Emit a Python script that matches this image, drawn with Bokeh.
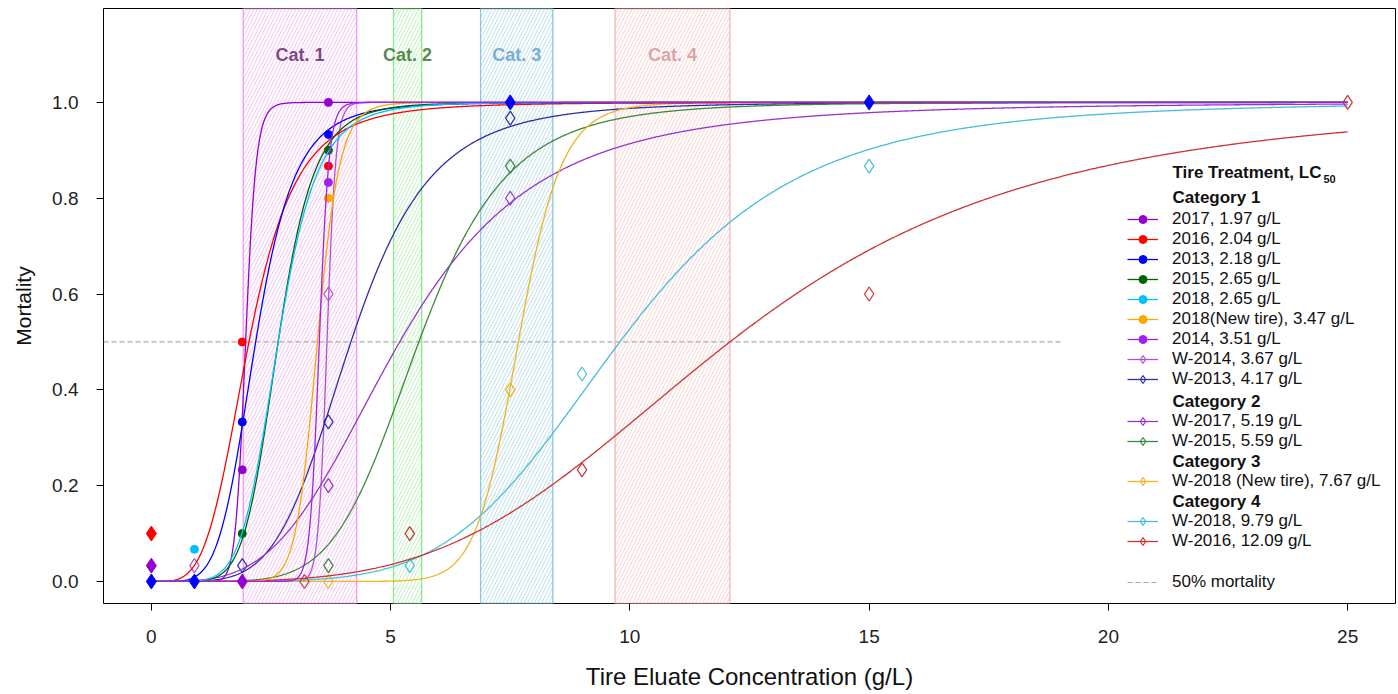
import numpy as np
from bokeh.plotting import figure
from bokeh.models import Range1d, FixedTicker, NumeralTickFormatter, Legend, LegendItem, Label
from bokeh.embed import file_html
from bokeh.resources import INLINE

# ---------------- data ----------------
# filled-marker treatments (Category 1)
f_labels = ["2017, 1.97 g/L", "2016, 2.04 g/L", "2013, 2.18 g/L", "2015, 2.65 g/L",
            "2018, 2.65 g/L", "2018(New tire), 3.47 g/L", "2014, 3.51 g/L"]
f_colors = ["#9400D3", "#FF0000", "#0000FF", "#006400", "#00BFFF", "#FFA500", "#A020F0"]
f_lc50 = [1.97, 2.04, 2.18, 2.65, 2.65, 3.47, 3.51]
f_slope = [18, 4.1, 5.3, 7.0, 6.5, 15, 35]
f_x = [[1.9, 3.7], [1.9, 3.7], [1.9, 3.7], [1.9, 3.7], [0.9], [3.7], [3.7]]
f_y = [[0.233, 1.0], [0.5, 0.867], [0.333, 0.933], [0.1, 0.9], [0.067], [0.8], [0.833]]
# overplotted control / plateau points (drawn as large filled diamonds)
d_series = [0, 0, 1, 2, 2, 2, 2]
d_x = [0, 1.9, 0, 0, 0.9, 7.5, 15]
d_y = [0.033, 0.0, 0.1, 0.0, 0.0, 1.0, 1.0]

# open-marker (W-) treatments
w_labels = ["W-2014, 3.67 g/L", "W-2013, 4.17 g/L", "W-2017, 5.19 g/L", "W-2015, 5.59 g/L",
            "W-2018 (New tire), 7.67 g/L", "W-2018, 9.79 g/L", "W-2016, 12.09 g/L"]
w_colors = ["#B452CD", "#2E2EA8", "#9A32CD", "#3A8A3A", "#EEB422", "#45BED6", "#CD3333"]
w_lc50 = [3.67, 4.17, 5.19, 5.59, 7.67, 9.79, 12.09]
w_slope = [40, 5.0, 3.6, 6.0, 17, 5.2, 3.75]
w_x = [[0.9, 3.7], [1.9, 3.7, 7.5], [3.7, 7.5], [3.7, 7.5], [3.7, 7.5], [5.4, 9.0, 15], [3.2, 5.4, 9.0, 15, 25]]
w_y = [[0.033, 0.6], [0.033, 0.333, 0.967], [0.2, 0.8], [0.033, 0.867], [0.0, 0.4],
       [0.033, 0.433, 0.867], [0.0, 0.1, 0.233, 0.6, 1.0]]

# category bands (LC50 ranges)
cat_names = ["Cat. 1", "Cat. 2", "Cat. 3", "Cat. 4"]
cat_left = [1.92, 5.06, 6.88, 9.69]
cat_right = [4.29, 5.65, 8.39, 12.09]
cat_band_colors = ["#EE9AEE", "#8EE88E", "#8CC6DA", "#F4B4B4"]
cat_text_colors = ["#7E4A86", "#5A8A50", "#78AED2", "#D8A6A6"]

ref_mortality = 0.5
ref_x_end = 19.0
x_max_conc = 25.0

# ---------------- figure ----------------
FONT = "Liberation Sans"
W, H = 1398, 694
LEFT, RIGHT, TOP, BOTTOM = 103, 3, 8, 91

p = figure(width=W, height=H, x_range=Range1d(-1, 26), y_range=Range1d(-0.046, 1.196),
           output_backend="svg", toolbar_location=None,
           min_border_left=LEFT, min_border_right=RIGHT, min_border_top=TOP, min_border_bottom=BOTTOM)
p.xgrid.visible = False
p.ygrid.visible = False
p.outline_line_color = "black"
p.outline_line_width = 1
p.background_fill_color = "white"

for ax in (p.xaxis[0], p.yaxis[0]):
    ax.axis_line_color = None
    ax.major_tick_out = 7
    ax.major_tick_in = 0
    ax.minor_tick_out = 0
    ax.minor_tick_in = 0
    ax.major_tick_line_color = "black"
    ax.major_label_text_font = FONT
    ax.major_label_text_font_size = "19px"
    ax.major_label_text_color = "#222222"
    ax.axis_label_text_font = FONT
    ax.axis_label_text_font_style = "normal"
    ax.axis_label_text_color = "#111111"

p.xaxis.ticker = FixedTicker(ticks=[0, 5, 10, 15, 20, 25])
p.yaxis.ticker = FixedTicker(ticks=[0, 0.2, 0.4, 0.6, 0.8, 1.0])
p.yaxis.formatter = NumeralTickFormatter(format="0.0")
p.yaxis.major_label_orientation = "horizontal"
p.xaxis.axis_label = "Tire Eluate Concentration (g/L)"
p.yaxis.axis_label = "Mortality"
p.xaxis.axis_label_text_font_size = "24px"
p.yaxis.axis_label_text_font_size = "21px"
p.xaxis.major_label_standoff = 19
p.yaxis.major_label_standoff = 18
p.xaxis.axis_label_standoff = 17
p.yaxis.axis_label_standoff = 14

# bands
yb0, yb1 = p.y_range.start, p.y_range.end
for i in range(4):
    p.quad(left=[cat_left[i]], right=[cat_right[i]], bottom=[yb0], top=[yb1],
           fill_alpha=0, line_color=cat_band_colors[i], line_width=1.3,
           hatch_pattern="/", hatch_color=cat_band_colors[i], hatch_scale=7,
           hatch_weight=0.7, hatch_alpha=0.85)
    p.add_layout(Label(x=(cat_left[i] + cat_right[i]) / 2, y=1.098, text=cat_names[i],
                       text_align="center", text_baseline="middle",
                       text_font=FONT, text_font_style="bold", text_font_size="18px",
                       text_color=cat_text_colors[i]))

# 50% line
ref_r = p.segment(x0=[p.x_range.start], x1=[ref_x_end], y0=[ref_mortality], y1=[ref_mortality],
                  line_color="#AAAAAA", line_dash="5 3", line_width=1.2)


def loglogistic(x, e, b):
    x = np.asarray(x, dtype=float)
    out = np.zeros_like(x)
    pos = x > 0
    out[pos] = 1.0 / (1.0 + np.exp(-b * (np.log(x[pos]) - np.log(e))))
    return out


xs = np.linspace(0, x_max_conc, 1200)

w_items = []
for i in range(7):
    lr = p.line(xs, loglogistic(xs, w_lc50[i], w_slope[i]), line_color=w_colors[i], line_width=1.3)
    sr = p.scatter(w_x[i], w_y[i], marker="diamond", size=14, fill_color=None,
                   line_color=w_colors[i], line_width=1.2)
    w_items.append(LegendItem(label=w_labels[i], renderers=[lr, sr]))

f_items = []
f_rends = []
for i in range(7):
    lr = p.line(xs, loglogistic(xs, f_lc50[i], f_slope[i]), line_color=f_colors[i], line_width=1.3)
    sr = p.scatter(f_x[i], f_y[i], marker="circle", size=8, fill_color=f_colors[i],
                   line_color=f_colors[i])
    f_rends.append((lr, sr))
for k in range(len(d_x)):
    s = d_series[k]
    p.scatter([d_x[k]], [d_y[k]], marker="diamond", size=15, fill_color=f_colors[s],
              line_color=f_colors[s])
for i in range(7):
    f_items.append(LegendItem(label=f_labels[i], renderers=list(f_rends[i])))

# ---------------- legend ----------------
def fx(px):
    return px - LEFT


def fy(py):
    return (H - BOTTOM) - py


def make_legend(items, bottom_px):
    lg = Legend(items=items, location=(fx(1127), fy(bottom_px)), orientation="vertical",
                glyph_width=31, glyph_height=20, label_height=20, label_standoff=14,
                spacing=0, padding=0, margin=0, border_line_color=None,
                background_fill_alpha=0, label_text_font=FONT, label_text_font_size="17px",
                label_text_color="#111111")
    p.add_layout(lg, "center")


make_legend(f_items + w_items[:2], 389)
make_legend(w_items[2:4], 451)
make_legend(w_items[4:5], 491)
make_legend(w_items[5:7], 551)
make_legend([LegendItem(label="50% mortality", renderers=[ref_r])], 592)


def hdr(text, py, size="17px", px=1172):
    p.add_layout(Label(x=fx(px), y=fy(py), x_units="screen", y_units="screen", text=text,
                       text_baseline="middle", text_align="left", text_font=FONT,
                       text_font_style="bold", text_font_size=size, text_color="#111111"))


hdr("Tire Treatment, LC", 172)
p.add_layout(Label(x=fx(1323), y=fy(178), x_units="screen", y_units="screen", text="50",
                   text_baseline="middle", text_align="left", text_font=FONT,
                   text_font_style="bold", text_font_size="11px", text_color="#111111"))
hdr("Category 1", 197)
hdr("Category 2", 401)
hdr("Category 3", 461)
hdr("Category 4", 501)

open("out.html", "w").write(file_html(p, INLINE))
